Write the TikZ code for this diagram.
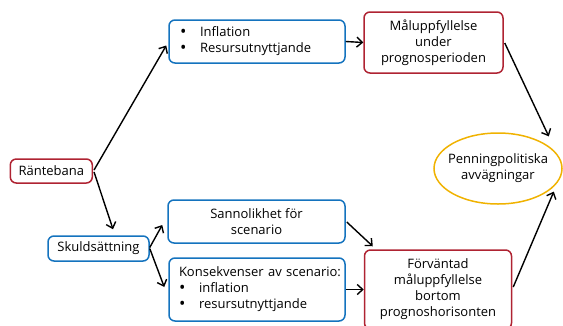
\documentclass[tikz,border=0pt]{standalone}
\usepackage{fontspec}
\setmainfont{Open Sans}
\usetikzlibrary{arrows.meta,shapes.geometric,calc}
\definecolor{boxred}{RGB}{175,35,50}
\definecolor{boxblue}{RGB}{20,115,190}
\definecolor{boxyellow}{RGB}{240,178,0}
\tikzset{
  base/.style={draw, line width=1.5pt, rounded corners=6pt, inner sep=0pt, align=center,
    font=\fontsize{13}{16}\selectfont},
  redbox/.style={base, draw=boxred},
  bluebox/.style={base, draw=boxblue},
  listbox/.style={bluebox, align=left, text width=#1},
  ovalbox/.style={draw=boxyellow, line width=1.5pt, ellipse, inner xsep=-8pt, inner ysep=0pt, align=center,
    font=\fontsize{13}{16}\selectfont},
  conn/.style={line width=1.4pt, -{Straight Barb[length=5.5pt,width=10pt,line width=1.4pt]}}
}
\newcommand{\bul}{\makebox[20pt][l]{\fontsize{17}{16}\selectfont\raisebox{-0.5pt}{•}}}
\begin{document}
\begin{tikzpicture}[x=1pt,y=-1pt]
\useasboundingbox (0,0) rectangle (563,325);
\node[redbox, minimum width=82pt, minimum height=24pt] (rb) at (51.3,171) {Räntebana};
\node[listbox=154pt, minimum width=176pt, minimum height=43pt] (inf) at (257,41.5)
  {\bul Inflation\\\bul Resursutnyttjande};
\node[redbox, minimum width=139pt, minimum height=61pt] (mal) at (433.5,42.5)
  {Måluppfyllelse\\under\\prognosperioden};
\node[ovalbox, minimum width=128pt, minimum height=71pt] (pp) at (498,168.5)
  {Penningpolitiska\\avvägningar};
\node[bluebox, minimum width=101pt, minimum height=25pt] (sk) at (98.5,248.5) {Skuldsättning};
\node[bluebox, minimum width=177pt, minimum height=43pt] (san) at (256.5,221.5)
  {Sannolikhet för\\scenario};
\node[listbox=156pt, minimum width=176pt, minimum height=63pt] (kon) at (257,289.5)
  {\mbox{Konsekvenser av scenario:}\\\bul inflation\\\bul resursutnyttjande};
\node[redbox, minimum width=147pt, minimum height=79pt] (fv) at (438,289.5)
  {Förväntad\\måluppfyllelse\\bortom\\prognoshorisonten};
\draw[conn] ($(rb.east)+(1,-1)$) -- ($(inf.west)+(-2,4)$);
\draw[conn] ($(rb.east)+(1,1)$) -- ($(sk.north)+(14.5,-6)$);
\draw[conn] ($(sk.east)+(0,-1)$) -- ($(san.west)+(-5,3.5)$);
\draw[conn] ($(sk.east)+(0,0)$) -- ($(kon.west)+(-4,-2.5)$);
\draw[conn] (inf.east) -- (mal.west);
\draw[conn] (kon.east) -- (fv.west);
\draw[conn] ($(san.east)+(1,0.5)$) -- ($(fv.north west)+(9,-3)$);
\draw[conn] ($(mal.east)+(1,0.5)$) -- ($(pp.north east)+(5,-6.5)$);
\draw[conn] ($(fv.east)+(1,-2.5)$) -- ($(pp.south east)+(10,-2.5)$);
\end{tikzpicture}
\end{document}
